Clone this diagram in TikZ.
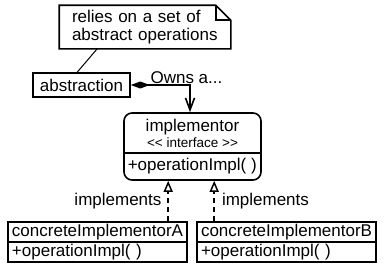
\documentclass[tikz,border=0pt]{standalone}
\usepackage{fontspec}
\setmainfont{Liberation Sans}
\usetikzlibrary{arrows.meta}

\begin{document}
\begin{tikzpicture}[x=1pt, y=-1pt, line width=1.6pt,
  every node/.style={font=\fontsize{17}{18}\selectfont, inner sep=0pt},
  classbox/.style={draw, minimum width=179pt, minimum height=20pt, text width=171pt, align=left},
  implements/.style={dash pattern=on 5pt off 4pt, -{Triangle[open, length=11pt, width=9pt, line width=1.5pt]}}]
\useasboundingbox (0,0) rectangle (386,274);

% Note
\node[minimum width=170pt, minimum height=42pt, text width=146pt, align=left] (note) at (145,27)
  {relies on a set of\\[0pt]abstract operations};
\draw (note.south west) -- (note.north west) -- ([xshift=-15pt]note.north east)
  -- ([yshift=-15pt]note.north east) -- (note.south east) -- cycle;
\draw ([xshift=-15pt]note.north east) -- ([xshift=-15pt, yshift=-15pt]note.north east)
  -- ([yshift=-15pt]note.north east);

% Abstraction
\node[draw, minimum width=97pt, minimum height=24pt] (abs) at (81.5,85) {abstraction};
\draw[line width=1pt] ([xshift=38pt]note.south west) -- ([xshift=45pt]abs.north west);

% Implementor
\node[draw, rounded corners=8pt, minimum width=137pt, minimum height=67pt] (impl) at (192.5,146.5) {};
\node (impltitle) at (192.5,127) {implementor};
\node[font=\fontsize{13.5}{15}\selectfont] (implstereo) at (192.5,143)
  {<\kern0pt< interface >\kern0pt>};
\draw (impl.west |- 0,153) -- (impl.east |- 0,153);
\node[anchor=west] (implop) at (127,166) {+operationImpl( )};

% Owns a...
\draw[{Diamond[length=19pt, width=7pt]}-{Straight Barb[length=12pt, width=9pt]}]
  (abs.east) -| node[pos=0.47, anchor=south, yshift=1pt] {Owns a...} ([xshift=-2.5pt]impl.north);

% Concrete implementors
\node[classbox] (atop) at (97.5,232) {concreteImplementorA};
\node[classbox] (abot) at (97.5,252) {+operationImpl( )};
\node[classbox] (btop) at (286.5,232) {concreteImplementorB};
\node[classbox] (bbot) at (286.5,252) {+operationImpl( )};

% Realisations
\coordinate (ta) at ([xshift=45pt]impl.south west);
\coordinate (tb) at ([xshift=91pt]impl.south west);
\draw[implements] (ta |- atop.north) -- node[left=6pt] {implements} (ta);
\draw[implements] (tb |- btop.north) -- node[right=7pt] {implements} (tb);
\end{tikzpicture}
\end{document}
